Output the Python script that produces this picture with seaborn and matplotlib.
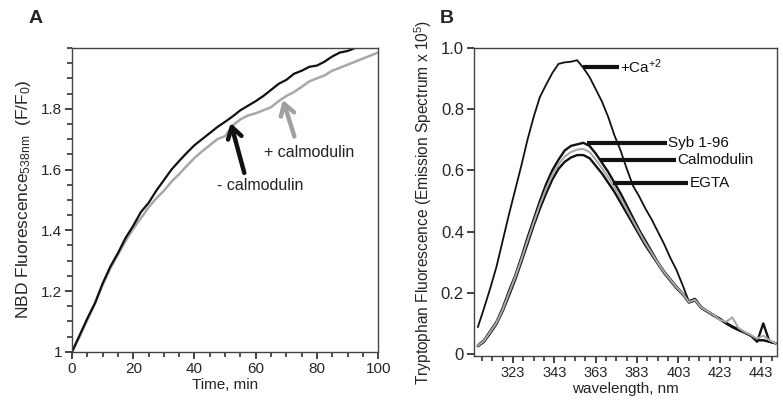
import matplotlib
matplotlib.use("Agg")
import matplotlib.pyplot as plt
from matplotlib.ticker import MultipleLocator, FixedLocator
import numpy as np
import pandas as pd
import seaborn as sns

# Panel A: NBD fluorescence time course (F/F0)
time_min = [0, 2.5, 5, 7.5, 10, 12.5, 15, 17.5, 20, 22.5, 25, 27.5, 30, 32.5,
            35, 37.5, 40, 42.5, 45, 47.5, 50, 52.5, 55, 57.5, 60, 62.5, 65,
            67.5, 70, 72.5, 75, 77.5, 80, 82.5, 85, 87.5, 90, 92.5, 95, 97.5, 100]
minus_cam = [1.00, 1.055, 1.11, 1.16, 1.225, 1.28, 1.325, 1.375, 1.415, 1.46,
             1.49, 1.53, 1.565, 1.60, 1.628, 1.655, 1.68, 1.70, 1.72, 1.74,
             1.757, 1.775, 1.795, 1.81, 1.825, 1.842, 1.862, 1.882, 1.895,
             1.915, 1.925, 1.938, 1.942, 1.955, 1.972, 1.985, 1.99, 2.0,
             np.nan, np.nan, np.nan]
plus_cam = [1.00, 1.05, 1.105, 1.16, 1.22, 1.275, 1.32, 1.365, 1.405, 1.44,
            1.475, 1.505, 1.53, 1.56, 1.585, 1.612, 1.638, 1.66, 1.68, 1.70,
            1.71, 1.745, 1.765, 1.778, 1.785, 1.795, 1.805, 1.825, 1.842,
            1.855, 1.872, 1.89, 1.90, 1.91, 1.925, 1.935, 1.945, 1.955,
            1.965, 1.975, 1.985]

# Panel B: tryptophan emission spectra (x 10^5)
wavelength = list(range(306, 451, 3))
ca_plus = [0.088, 0.150, 0.215, 0.285, 0.370, 0.455, 0.535, 0.615, 0.700,
           0.775, 0.840, 0.880, 0.918, 0.948, 0.953, 0.955, 0.960, 0.935,
           0.905, 0.865, 0.825, 0.775, 0.715, 0.665, 0.605, 0.550, 0.515,
           0.475, 0.440, 0.400, 0.360, 0.315, 0.275, 0.225, 0.172, 0.180,
           0.153, 0.140, 0.127, 0.115, 0.102, 0.090, 0.080, 0.070, 0.060,
           0.045, 0.045, 0.040, 0.035]
syb = [0.028, 0.045, 0.075, 0.105, 0.150, 0.205, 0.255, 0.315, 0.380, 0.440,
       0.500, 0.555, 0.600, 0.635, 0.665, 0.680, 0.685, 0.690, 0.680, 0.655,
       0.625, 0.595, 0.560, 0.525, 0.485, 0.445, 0.405, 0.370, 0.335, 0.300,
       0.270, 0.245, 0.220, 0.198, 0.172, 0.180, 0.153, 0.140, 0.127, 0.115,
       0.102, 0.090, 0.080, 0.070, 0.060, 0.045, 0.045, 0.040, 0.035]
calmodulin = [0.027, 0.043, 0.072, 0.102, 0.145, 0.198, 0.250, 0.308, 0.370,
              0.430, 0.488, 0.540, 0.585, 0.620, 0.645, 0.660, 0.668, 0.670,
              0.660, 0.635, 0.607, 0.577, 0.545, 0.510, 0.472, 0.435, 0.398,
              0.362, 0.330, 0.298, 0.268, 0.243, 0.218, 0.197, 0.170, 0.177,
              0.152, 0.140, 0.127, 0.112, 0.105, 0.120, 0.085, 0.072, 0.062,
              0.050, 0.060, 0.045, 0.035]
egta = [0.025, 0.040, 0.068, 0.098, 0.140, 0.190, 0.242, 0.300, 0.360, 0.420,
        0.475, 0.525, 0.570, 0.605, 0.628, 0.642, 0.650, 0.650, 0.640, 0.615,
        0.590, 0.560, 0.530, 0.495, 0.460, 0.425, 0.390, 0.355, 0.325, 0.295,
        0.265, 0.240, 0.215, 0.195, 0.168, 0.175, 0.150, 0.138, 0.125, 0.113,
        0.100, 0.088, 0.078, 0.070, 0.060, 0.040, 0.100, 0.040, 0.035]

a_yticks = [1.0, 1.2, 1.4, 1.6, 1.8]
a_ylabels = ["1", "1.2", "1.4", "1.6", "1.8"]
b_yticks = [0.0, 0.2, 0.4, 0.6, 0.8, 1.0]
b_ylabels = ["0", "0.2", "0.4", "0.6", "0.8", "1.0"]
b_xticks = [323, 343, 363, 383, 403, 423, 443]

sns.set_style("ticks")
plt.rcParams["font.family"] = ["Liberation Sans", "DejaVu Sans"]
plt.rcParams["mathtext.default"] = "regular"
plt.rcParams["xtick.bottom"] = True
plt.rcParams["ytick.left"] = True

df_a = pd.DataFrame({"time": time_min, "minus": minus_cam, "plus": plus_cam})
df_b = pd.DataFrame({"wl": wavelength, "ca": ca_plus, "syb": syb,
                     "cam": calmodulin, "egta": egta})

fig = plt.figure(figsize=(7.83, 4.03), dpi=100)
ax_a = fig.add_axes([0.092, 0.127, 0.391, 0.754])
ax_b = fig.add_axes([0.605, 0.117, 0.387, 0.764])

# --- panel A ---
sns.lineplot(data=df_a, x="time", y="plus", ax=ax_a, color="#a8a8a8", lw=1.8)
sns.lineplot(data=df_a, x="time", y="minus", ax=ax_a, color="#111111", lw=1.6)
ax_a.set_xlim(0, 100)
ax_a.set_ylim(1.0, 2.0)
ax_a.xaxis.set_major_locator(MultipleLocator(20))
ax_a.xaxis.set_minor_locator(MultipleLocator(5))
ax_a.yaxis.set_major_locator(FixedLocator(a_yticks))
ax_a.yaxis.set_minor_locator(MultipleLocator(0.05))
ax_a.set_yticklabels(a_ylabels)
ax_a.set_xlabel("Time, min", fontsize=11, labelpad=2)
ax_a.set_ylabel(r"NBD Fluorescence$_{538nm}$  (F/F$_0$)", fontsize=12.5,
                labelpad=6)

arrow_style = "->,head_length=0.8,head_width=0.5"
ax_a.annotate("", xy=(51.6, 1.762), xytext=(56.5, 1.58),
              arrowprops=dict(arrowstyle=arrow_style, color="#111111", lw=3.2))
ax_a.annotate("", xy=(68.6, 1.838), xytext=(72.9, 1.70),
              arrowprops=dict(arrowstyle=arrow_style, color="#a0a0a0", lw=3.2))
ax_a.text(61.5, 1.548, "- calmodulin", fontsize=11.5, ha="center", va="center",
          color="#222222")
ax_a.text(77.5, 1.655, "+ calmodulin", fontsize=11.5, ha="center", va="center",
          color="#222222")

# --- panel B ---
sns.lineplot(data=df_b, x="wl", y="ca", ax=ax_b, color="#111111", lw=1.3)
sns.lineplot(data=df_b, x="wl", y="syb", ax=ax_b, color="#111111", lw=1.7)
sns.lineplot(data=df_b, x="wl", y="egta", ax=ax_b, color="#111111", lw=1.7)
sns.lineplot(data=df_b, x="wl", y="cam", ax=ax_b, color="#a8a8a8", lw=1.5)
ax_b.set_xlim(304, 450.5)
ax_b.set_ylim(-0.006, 1.0)
ax_b.xaxis.set_major_locator(FixedLocator(b_xticks))
ax_b.xaxis.set_minor_locator(FixedLocator(list(range(303, 450, 5))))
ax_b.yaxis.set_major_locator(FixedLocator(b_yticks))
ax_b.set_yticklabels(b_ylabels)
ax_b.set_xlabel("wavelength, nm", fontsize=11, labelpad=2)
ax_b.set_ylabel(r"Tryptophan Fluorescence (Emission Spectrum x 10$^5$)",
                fontsize=11.2, labelpad=5)

labels_b = [("+Ca$^{+2}$", 356.9, 374.0, 0.939),
            ("Syb 1-96", 358.6, 397.4, 0.689),
            ("Calmodulin", 364.9, 401.8, 0.634),
            ("EGTA", 371.4, 407.8, 0.558)]
for txt, x0, x1, yv in labels_b:
    ax_b.plot([x0, x1], [yv, yv], color="#111111", lw=3, solid_capstyle="butt")
    ax_b.text(x1 + 0.6, yv, txt, fontsize=11, ha="left", va="center",
              color="#111111")

fig.text(0.037, 0.955, "A", fontsize=14, fontweight="bold", ha="left",
         va="center")
fig.text(0.562, 0.955, "B", fontsize=14, fontweight="bold", ha="left",
         va="center")

# styling last so nothing resets the ticks
for ax in (ax_a, ax_b):
    for sp in ax.spines.values():
        sp.set_visible(True)
        sp.set_color("#444444")
        sp.set_linewidth(1.0)
    ax.tick_params(which="major", direction="out", length=5, width=1.2,
                   labelsize=11, color="#222222", pad=2, bottom=True,
                   left=True)
    ax.tick_params(which="minor", direction="out", length=3.5, width=1.1,
                   color="#222222", bottom=True, left=True)
ax_b.tick_params(axis="x", which="major", labelsize=10.5)
ax_b.tick_params(axis="y", which="major", labelsize=12)
ax_b.tick_params(axis="y", which="minor", left=False)

fig.savefig("out.png", dpi=100)
